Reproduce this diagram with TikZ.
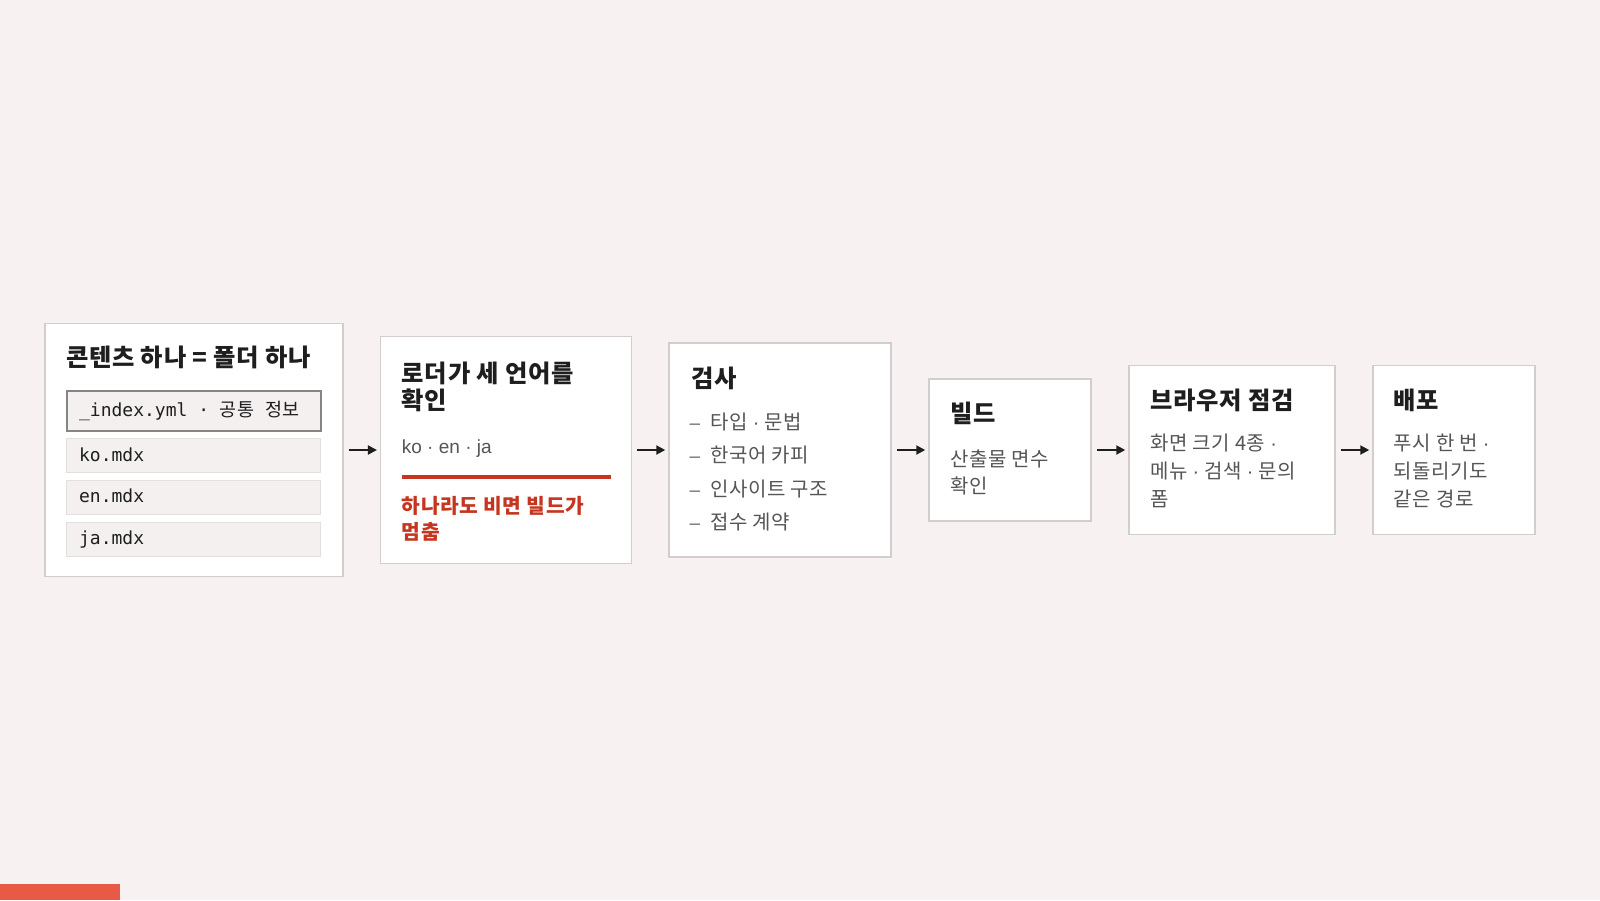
\documentclass[tikz,border=0pt]{standalone}
\usepackage{fontspec}
\setmainfont{Noto Sans CJK KR}[LetterSpace=3]
\setmonofont{DejaVu Sans Mono}
\newfontfamily\latinsans{Liberation Sans}
\newcommand\sepdot{{\latinsans ·}}
\newcommand\monogap{\hspace{10.84pt}}
\usepackage{tikz}
\usetikzlibrary{arrows.meta}
\definecolor{bgpaper}{HTML}{F7F2F1}
\definecolor{boxline}{HTML}{D3CECD}
\definecolor{inkdark}{HTML}{1E1E1E}
\definecolor{inkgray}{HTML}{555555}
\definecolor{dashgray}{HTML}{6A6A6A}
\definecolor{alert}{HTML}{C5351F}
\definecolor{filefill}{HTML}{F3F0EF}
\definecolor{fileline}{HTML}{E3DFDE}
\definecolor{idxline}{HTML}{858585}
\definecolor{accent}{HTML}{E85A45}
\begin{document}
\begin{tikzpicture}[x=1pt,y=-1pt,
  stage/.style={draw=boxline,line width=1.5pt,fill=white,inner sep=0pt},
  filebox/.style={draw=fileline,line width=1pt,fill=filefill,minimum height=34pt,text width=229.4pt,inner xsep=12.3pt,inner ysep=0pt,align=left,text height=13.3pt,text depth=2.7pt,text=inkdark,font=\fontsize{18}{22}\selectfont\ttfamily},
  head/.style={inner sep=0pt,anchor=base west,text=inkdark,font=\fontsize{24.3}{28}\selectfont\bfseries},
  body/.style={inner sep=0pt,anchor=base west,text=inkgray,font=\fontsize{20}{28}\selectfont},
  warn/.style={inner sep=0pt,anchor=base west,text=alert,font=\fontsize{20.3}{26}\selectfont\bfseries},
  flow/.style={draw=inkdark,line width=2pt,-{Triangle[length=9pt,width=9pt]},shorten <=5pt,shorten >=3pt}]
\fill[bgpaper](0,0)rectangle(1600,900);
\useasboundingbox(0,0)rectangle(1600,900);
\fill[accent](0,884)rectangle(120,900);
\node[stage,minimum width=298pt,minimum height=253pt](b1)at(194.2,450){};
\node[stage,minimum width=251pt,minimum height=227pt](b2)at(506.2,450){};
\node[stage,minimum width=222pt,minimum height=214pt](b3)at(780,450){};
\node[stage,minimum width=162pt,minimum height=142pt](b4)at(1010,450){};
\node[stage,minimum width=206pt,minimum height=169pt](b5)at(1232,450){};
\node[stage,minimum width=162pt,minimum height=169pt](b6)at(1454,450){};
\foreach \a/\b in {b1/b2,b2/b3,b3/b4,b4/b5,b5/b6}\draw[flow](\a.east)--(\b.west);
\node[head](h1)at(66,366.2){콘텐츠 하나 = 폴더 하나};
\node[filebox,draw=idxline,line width=2pt,minimum height=40pt](idx)at(193.8,410.7){\_index.yml\monogap·\monogap{\rmfamily\fontsize{18.5}{22}\selectfont 공통}\monogap{\rmfamily\fontsize{18.5}{22}\selectfont 정보}};
\foreach \f [count=\i from 0] in {ko,en,ja}
  \node[filebox](\f)at(193.8,455.7+41.8*\i){\f.mdx};
\node[head](h2a)at(401.7,382){로더가 세 언어를};
\node[head](h2b)at(401.7,409.7){확인};
\node[body,font=\fontsize{19}{28}\selectfont\latinsans](langs)at(401.7,453.3){ko · en · ja};
\draw[alert,line width=4pt](401.7,477.3)--(610.5,477.3);
\node[warn](w1)at(401.7,513){하나라도 비면 빌드가};
\node[warn](w2)at(401.7,539){멈춤};
\node[head](h3)at(691,387){검사};
\foreach \t [count=\i from 0] in {타입 \sepdot{} 문법,한국어 카피,인사이트 구조,접수 계약}{
  \node[body,text=dashgray,font=\fontsize{19}{28}\selectfont\latinsans](d\i)at(689.5,429+33.6*\i){–};
  \node[body](c\i)at(710.3,429+33.6*\i){\t};
}
\node[head](h4)at(950,422){빌드};
\node[body](t4a)at(950,466.2){산출물 면수};
\node[body](t4b)at(950,493.9){확인};
\node[head](h5)at(1150,409.5){브라우저 점검};
\foreach \t [count=\i from 0] in {화면 크기 4종 \sepdot,메뉴 \sepdot{} 검색 \sepdot{} 문의,폼}
  \node[body](t5\i)at(1150,450.5+28.2*\i){\t};
\node[head](h6)at(1393.3,409.5){배포};
\foreach \t [count=\i from 0] in {푸시 한 번 \sepdot,되돌리기도,같은 경로}
  \node[body](t6\i)at(1393.3,450.5+28.2*\i){\t};
\end{tikzpicture}
\end{document}
